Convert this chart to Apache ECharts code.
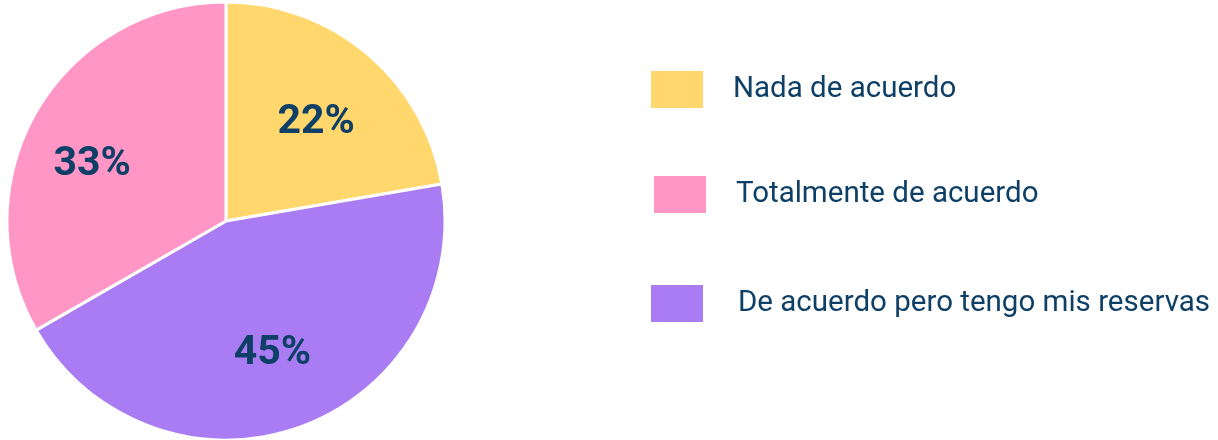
<!DOCTYPE html>
<html>
<head>
<meta charset="utf-8">
<script src="https://cdn.jsdelivr.net/npm/echarts@6/dist/echarts.min.js"></script>
<style>
  html, body { margin: 0; padding: 0; background: #fff; }
  #main { width: 1218px; height: 440px; }
</style>
</head>
<body>
<div id="main"></div>
<script>
// slices in clockwise order from the top
var categories = ['Nada de acuerdo', 'De acuerdo pero tengo mis reservas', 'Totalmente de acuerdo'];
var values = [22.3, 44.4, 33.3];          // share
var percentLabels = ['22%', '45%', '33%']; // as printed on the slices
var colors = ['#FFD76C', '#A97CF4', '#FF96C5'];
var legendOrder = ['Nada de acuerdo', 'Totalmente de acuerdo', 'De acuerdo pero tengo mis reservas'];

var textColor = '#0E3F66';

var myChart = echarts.init(document.getElementById('main'));

var pieData = categories.map(function (c, i) {
    return { name: c, value: values[i], itemStyle: { color: colors[i] } };
});

var legendPos = [
    { left: 649, top: 69, gap: 24 },
    { left: 652, top: 174, gap: 24 },
    { left: 649, top: 283, gap: 29 }
];

var legends = legendOrder.map(function (name, i) {
    return {
        left: legendPos[i].left,
        top: legendPos[i].top,
        padding: 0,
        data: [name],
        icon: 'rect',
        itemWidth: 54,
        itemHeight: 39,
        selectedMode: false,
        textStyle: {
            fontFamily: 'Roboto',
            fontSize: 29.5,
            color: textColor,
            padding: [6, 0, 0, legendPos[i].gap]
        }
    };
});

// small nudges so the numbers sit where they do in the picture
var labelNudge = [[-2, 11], [-2, -2], [-10, 15]];

var option = {
    animation: false,
    legend: legends,
    series: [
        {
            name: 'pie',
            type: 'pie',
            center: [226, 221],
            radius: [0, 219],
            startAngle: 90,
            clockwise: true,
            itemStyle: {
                borderColor: '#fff',
                borderWidth: 3
            },
            label: { show: false },
            labelLine: { show: false },
            emphasis: { disabled: true },
            data: pieData
        },
        {
            // transparent ring only used to place the percent labels
            name: 'labels',
            type: 'pie',
            center: [226, 221],
            radius: [0, 280],
            startAngle: 90,
            clockwise: true,
            silent: true,
            itemStyle: { color: 'rgba(0,0,0,0)', borderWidth: 0 },
            label: {
                show: true,
                position: 'inside',
                formatter: function (p) { return percentLabels[p.dataIndex]; },
                fontFamily: 'Roboto',
                fontWeight: 'bold',
                fontSize: 41,
                color: textColor
            },
            labelLayout: function (p) {
                return { dx: labelNudge[p.dataIndex][0], dy: labelNudge[p.dataIndex][1] };
            },
            labelLine: { show: false },
            emphasis: { disabled: true },
            data: categories.map(function (c, i) {
                return { name: c, value: values[i] };
            })
        }
    ]
};

myChart.setOption(option);
</script>
</body>
</html>
